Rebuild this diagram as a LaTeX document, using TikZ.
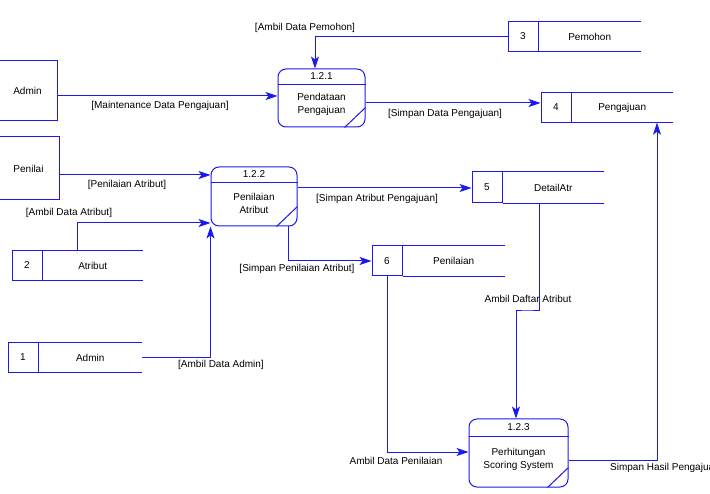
\documentclass[tikz,border=0pt]{standalone}
\usepackage{fontspec}
\setmainfont{Liberation Sans}
\usetikzlibrary{shapes,arrows,arrows.meta,positioning,calc}
\definecolor{dfdblue}{RGB}{25,25,240}
\tikzstyle{entity} = [rectangle, draw=dfdblue, line width=1pt, minimum width=59, minimum height=60, inner sep=0pt]
\tikzstyle{process} = [rectangle, rounded corners=8pt, draw=dfdblue, line width=1pt, inner sep=0pt]
\tikzstyle{storeno} = [rectangle, draw=dfdblue, line width=1pt, minimum width=30, minimum height=30, inner sep=0pt]
\tikzstyle{storename} = [rectangle, minimum width=102, minimum height=30, inner sep=0pt]
\tikzstyle{flow} = [draw=dfdblue, line width=1pt]
\tikzstyle{arrow} = [flow, -{Stealth[length=12pt,width=8pt,inset=3pt]}]
\tikzstyle{lbl} = [inner sep=0pt]

\begin{document}
\begin{tikzpicture}[x=1pt, y=-1pt, font=\fontsize{10}{13}\selectfont]
	\useasboundingbox (0,0) rectangle (710,494);
	% external entities
	\node (admin) [entity] at (27.5,91) {Admin};
	\node (penilai) [entity, minimum width=61, minimum height=63] at (28.5,168.5) {Penilai};
	% processes
	\node (p121) [process, minimum width=87, minimum height=58] at (321.5,98) {};
	\node (p122) [process, minimum width=86, minimum height=59] at (254,196.5) {};
	\node (p123) [process, minimum width=99, minimum height=68] at (518.5,453) {};
	\foreach \p/\h in {p121/16, p122/16, p123/18} {
		\draw [flow] ($(\p.north west)+(0,\h)$) -- ($(\p.north east)+(0,\h)$);
		\draw [flow] ($(\p.south east)+(-21,0)$) -- ($(\p.south east)+(0,-20)$);
	}
	\node (n121) [lbl] at ($(p121.north)+(0,8)$) {1.2.1};
	\node (n122) [lbl] at ($(p122.north)+(0,8)$) {1.2.2};
	\node (n123) [lbl] at ($(p123.north)+(0,9)$) {1.2.3};
	\node (d121) [lbl, align=center] at ($(p121.center)+(0,6.5)$) {Pendataan\\Pengajuan};
	\node (d122) [lbl, align=center] at ($(p122.center)+(0,6.5)$) {Penilaian\\Atribut};
	\node (d123) [lbl, align=center] at ($(p123.center)+(0,6)$) {Perhitungan\\Scoring System};
	% data stores
	\node (n3) [storeno] at (523,36.5) {3};
	\node (s3) [storename, right=0pt of n3] {Pemohon};
	\node (n4) [storeno] at (556,107.5) {4};
	\node (s4) [storename, minimum width=101, right=0pt of n4] {Pengajuan};
	\node (n5) [storeno, minimum height=31] at (487,187.5) {5};
	\node (s5) [storename, minimum width=101, minimum height=31, right=0pt of n5] {DetailAtr};
	\node (n6) [storeno] at (387,261) {6};
	\node (s6) [storename, right=0pt of n6] {Penilaian};
	\node (n2) [storeno] at (27,265.5) {2};
	\node (s2) [storename, minimum width=100, right=0pt of n2] {Atribut};
	\node (n1) [storeno] at (23,357.5) {1};
	\node (s1) [storename, minimum width=103, right=0pt of n1] {Admin};
	\foreach \s in {s1,s2,s3,s4,s5,s6}
		\draw [flow] (\s.north west) -- (\s.north east) (\s.south west) -- (\s.south east);
	% data flows
	\draw [arrow] (n3.west) -| (p121.north -| 315,0);
	\node (l1) [lbl] at (305,28) {[Ambil Data Pemohon]};
	\draw [arrow] (admin.east |- 0,96) -- (p121.west |- 0,96);
	\node (l2) [lbl] at (160,106) {[Maintenance Data Pengajuan]};
	\draw [arrow] (p121.east |- 0,103) -- (n4.west |- 0,103);
	\node (l3) [lbl] at (445,114) {[Simpan Data Pengajuan]};
	\draw [arrow] (penilai.east |- 0,175) -- (p122.west |- 0,175);
	\node (l4) [lbl] at (127,185) {[Penilaian Atribut]};
	\draw [arrow] (s2.north -| 77,0) |- (p122.west |- 0,223);
	\node (l5) [lbl] at (69,213) {[Ambil Data Atribut]};
	\draw [arrow] (s1.east) -| (p122.south west);
	\node (l6) [lbl] at (221,365) {[Ambil Data Admin]};
	\draw [arrow] (p122.east |- 0,188) -- (n5.west |- 0,188);
	\node (l7) [lbl] at (377,199) {[Simpan Atribut Pengajuan]};
	\draw [arrow] (p122.south -| 288,0) |- (n6.west);
	\node (l8) [lbl] at (297,269) {[Simpan Penilaian Atribut]};
	\draw [arrow] (s5.south -| 539,0) |- (527,311) -| (p123.north -| 516,0);
	\node (l9) [lbl] at (528,299) {Ambil Daftar Atribut};
	\draw [arrow] (n6.south) |- (p123.west |- 0,452);
	\node (l10) [lbl] at (396,461) {Ambil Data Penilaian};
	\draw [arrow] (p123.east |- 0,460) -| (s4.south -| 657,0);
	\node (l11) [lbl, anchor=west] at (610,468) {Simpan Hasil Pengajuan};
\end{tikzpicture}
\end{document}
